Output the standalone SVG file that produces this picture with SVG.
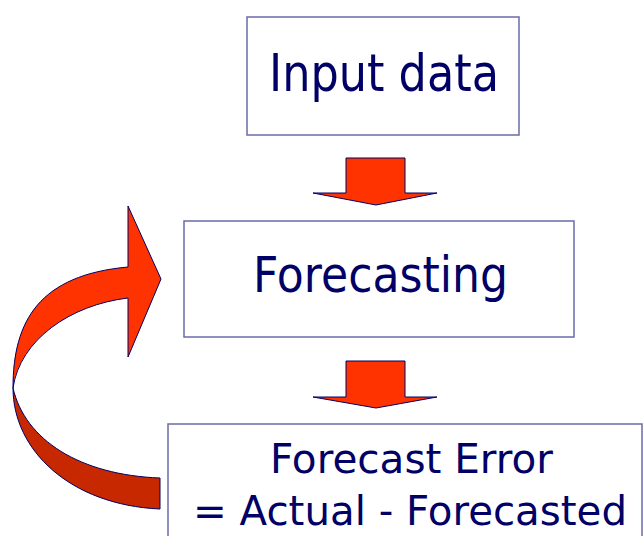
<svg xmlns="http://www.w3.org/2000/svg" width="643" height="536" viewBox="0 0 643 536">
  <style>
    .box { fill: #ffffff; stroke: #6b6bab; stroke-width: 1.5; }
    .label { font-family: "DejaVu Sans", Verdana, sans-serif; fill: #000066; text-anchor: middle; }
    .arrow { fill: #ff3300; stroke: #000066; stroke-width: 1; stroke-linejoin: miter; }
    .arrow-dark { fill: #c82800; stroke: #000066; stroke-width: 1; }
  </style>
  <rect width="643" height="536" fill="#ffffff"/>

  <g id="input-data">
    <rect class="box" x="247" y="17" width="272" height="118"/>
    <text class="label" x="384" y="91" font-size="52" textLength="230" lengthAdjust="spacingAndGlyphs">Input data</text>
  </g>

  <g id="forecasting">
    <rect class="box" x="184" y="221" width="390" height="116"/>
    <text class="label" x="380.5" y="292" font-size="49" textLength="255" lengthAdjust="spacingAndGlyphs">Forecasting</text>
  </g>

  <g id="forecast-error">
    <rect class="box" x="168" y="424" width="474" height="130"/>
    <text class="label" x="411.5" y="473" font-size="40" textLength="283" lengthAdjust="spacingAndGlyphs">Forecast Error</text>
    <text class="label" x="410" y="525" font-size="40" textLength="434" lengthAdjust="spacingAndGlyphs">= Actual - Forecasted</text>
  </g>

  <g id="connectors">
    <!-- block arrow: Input data to Forecasting -->
    <path class="arrow" d="M346,158 L405,158 L405,193 L437,193 L376,205 L313,193 L346,193 Z"/>
    <!-- block arrow: Forecasting to Forecast Error -->
    <path class="arrow" d="M346,361 L405,361 L405,397 L437,397 L376,408 L313,397 L346,397 Z"/>
    <!-- curved feedback arrow: lower (back) ribbon -->
    <path class="arrow-dark" d="M13,388 C13,450 70,505 160,509 L160,478 C80,475 25,440 13,388 Z"/>
    <!-- curved feedback arrow: upper ribbon with head -->
    <path class="arrow" d="M128,206 L161,279 L128,357 L128,298 C70,305 20,340 13,388 C13,320 40,275 128,267 Z"/>
  </g>
</svg>
